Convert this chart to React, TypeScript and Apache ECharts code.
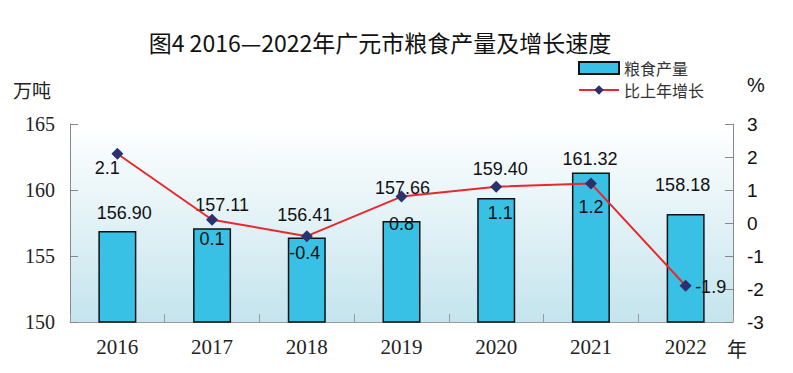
import React, { useEffect, useRef } from "react";
import * as echarts from "echarts";

const years = ["2016", "2017", "2018", "2019", "2020", "2021", "2022"];
const output = [156.9, 157.11, 156.41, 157.66, 159.4, 161.32, 158.18];
const growth = [2.1, 0.1, -0.4, 0.8, 1.1, 1.2, -1.9];
const leftAxis = { min: 150, max: 165, interval: 5 };
const rightAxis = { min: -3, max: 3, interval: 1 };

const barLabelOffsets = [[7, -9], [10, -14], [-2, -13], [1, -24], [4, -20], [-1, -5], [-3, -20]];
const lineLabelOffsets = [[-10, 14], [0, 19], [-2, 17], [0, 27], [4, 26], [0, 24], [25, 1]];

export default function App() {
  const ref = useRef<HTMLDivElement>(null);
  useEffect(() => {
    if (!ref.current) return;
    const chart = echarts.init(ref.current, undefined, { renderer: "svg" });
    const serif = "'Liberation Serif', 'Times New Roman', serif";
    const sans = "'Liberation Sans', Arial, sans-serif";
    const cjk = "'Noto Sans CJK SC', sans-serif";
    chart.setOption({
      animation: false,
      backgroundColor: "#ffffff",
      grid: {
        left: 70,
        right: 60,
        top: 124,
        bottom: 51,
        show: true,
        borderWidth: 0,
        backgroundColor: new echarts.graphic.LinearGradient(0, 0, 0, 1, [
          { offset: 0, color: "#ffffff" },
          { offset: 1, color: "#c4e4ed" },
        ]),
      },
      legend: {
        orient: "vertical",
        left: 573,
        top: 55,
        itemWidth: 40,
        itemHeight: 12,
        itemGap: 6,
        textStyle: { fontFamily: cjk, fontSize: 16, color: "#333", lineHeight: 16 },
        data: [
          { name: "粮食产量", icon: "rect" },
          { name: "比上年增长" },
        ],
      },
      graphic: [
        {
          type: "text",
          x: 380,
          y: 42,
          style: {
            text: "图4 2016—2022年广元市粮食产量及增长速度",
            fontFamily: cjk,
            fontSize: 23,
            fontWeight: "normal",
            fill: "#111",
            textAlign: "center",
            textVerticalAlign: "middle",
          },
        },
        {
          type: "text",
          x: 13,
          y: 89,
          style: { text: "万吨", fontFamily: cjk, fontSize: 19, fill: "#222", textVerticalAlign: "middle" },
        },
        {
          type: "text",
          x: 747,
          y: 85,
          style: { text: "%", fontFamily: sans, fontSize: 20, fill: "#111", textVerticalAlign: "middle" },
        },
        {
          type: "text",
          x: 727,
          y: 348,
          style: { text: "年", fontFamily: cjk, fontSize: 20, fill: "#222", textVerticalAlign: "middle" },
        },
      ],
      xAxis: {
        type: "category",
        data: years,
        axisLine: { show: true, onZero: false, lineStyle: { color: "#9a9a9a", width: 1 } },
        axisTick: { show: true, inside: true, length: 8, lineStyle: { color: "#9a9a9a" } },
        axisLabel: { fontFamily: serif, fontSize: 21, color: "#222", margin: 14 },
      },
      yAxis: [
        {
          type: "value",
          min: leftAxis.min,
          max: leftAxis.max,
          interval: leftAxis.interval,
          splitLine: { show: false },
          axisLine: { show: true, lineStyle: { color: "#888", width: 1 } },
          axisTick: { show: true, inside: true, length: 8, lineStyle: { color: "#888" } },
          axisLabel: { fontFamily: serif, fontSize: 20, color: "#222", margin: 15 },
        },
        {
          type: "value",
          position: "right",
          min: rightAxis.min,
          max: rightAxis.max,
          interval: rightAxis.interval,
          splitLine: { show: false },
          axisLine: { show: true, onZero: false, lineStyle: { color: "#888", width: 1 } },
          axisTick: { show: true, inside: true, length: 8, lineStyle: { color: "#888" } },
          axisLabel: { fontFamily: sans, fontSize: 19, color: "#111", margin: 14 },
        },
      ],
      series: [
        {
          name: "粮食产量",
          type: "bar",
          yAxisIndex: 0,
          barWidth: 38,
          itemStyle: { color: "#38c1e4", borderColor: "#111", borderWidth: 1.5 },
          data: output.map((v, i) => ({
            value: v,
            label: { offset: barLabelOffsets[i] },
          })),
          label: {
            show: true,
            position: "top",
            distance: 0,
            fontFamily: sans,
            fontSize: 18,
            color: "#111",
            formatter: (p: any) => Number(p.value).toFixed(2),
          },
        },
        {
          name: "比上年增长",
          type: "line",
          yAxisIndex: 1,
          symbol: "diamond",
          symbolSize: 12,
          lineStyle: { color: "#e8282c", width: 2 },
          itemStyle: { color: "#2b306f" },
          data: growth.map((v, i) => ({
            value: v,
            label: { offset: lineLabelOffsets[i] },
          })),
          label: {
            show: true,
            position: "inside",
            align: "center",
            verticalAlign: "middle",
            fontFamily: sans,
            fontSize: 18,
            color: "#111",
            formatter: (p: any) => String(p.value),
          },
          z: 5,
        },
      ],
    });
    return () => chart.dispose();
  }, []);
  return (
    <div
      ref={ref}
      style={{ position: "fixed", left: 0, top: 0, width: 793, height: 373 }}
    />
  );
}
